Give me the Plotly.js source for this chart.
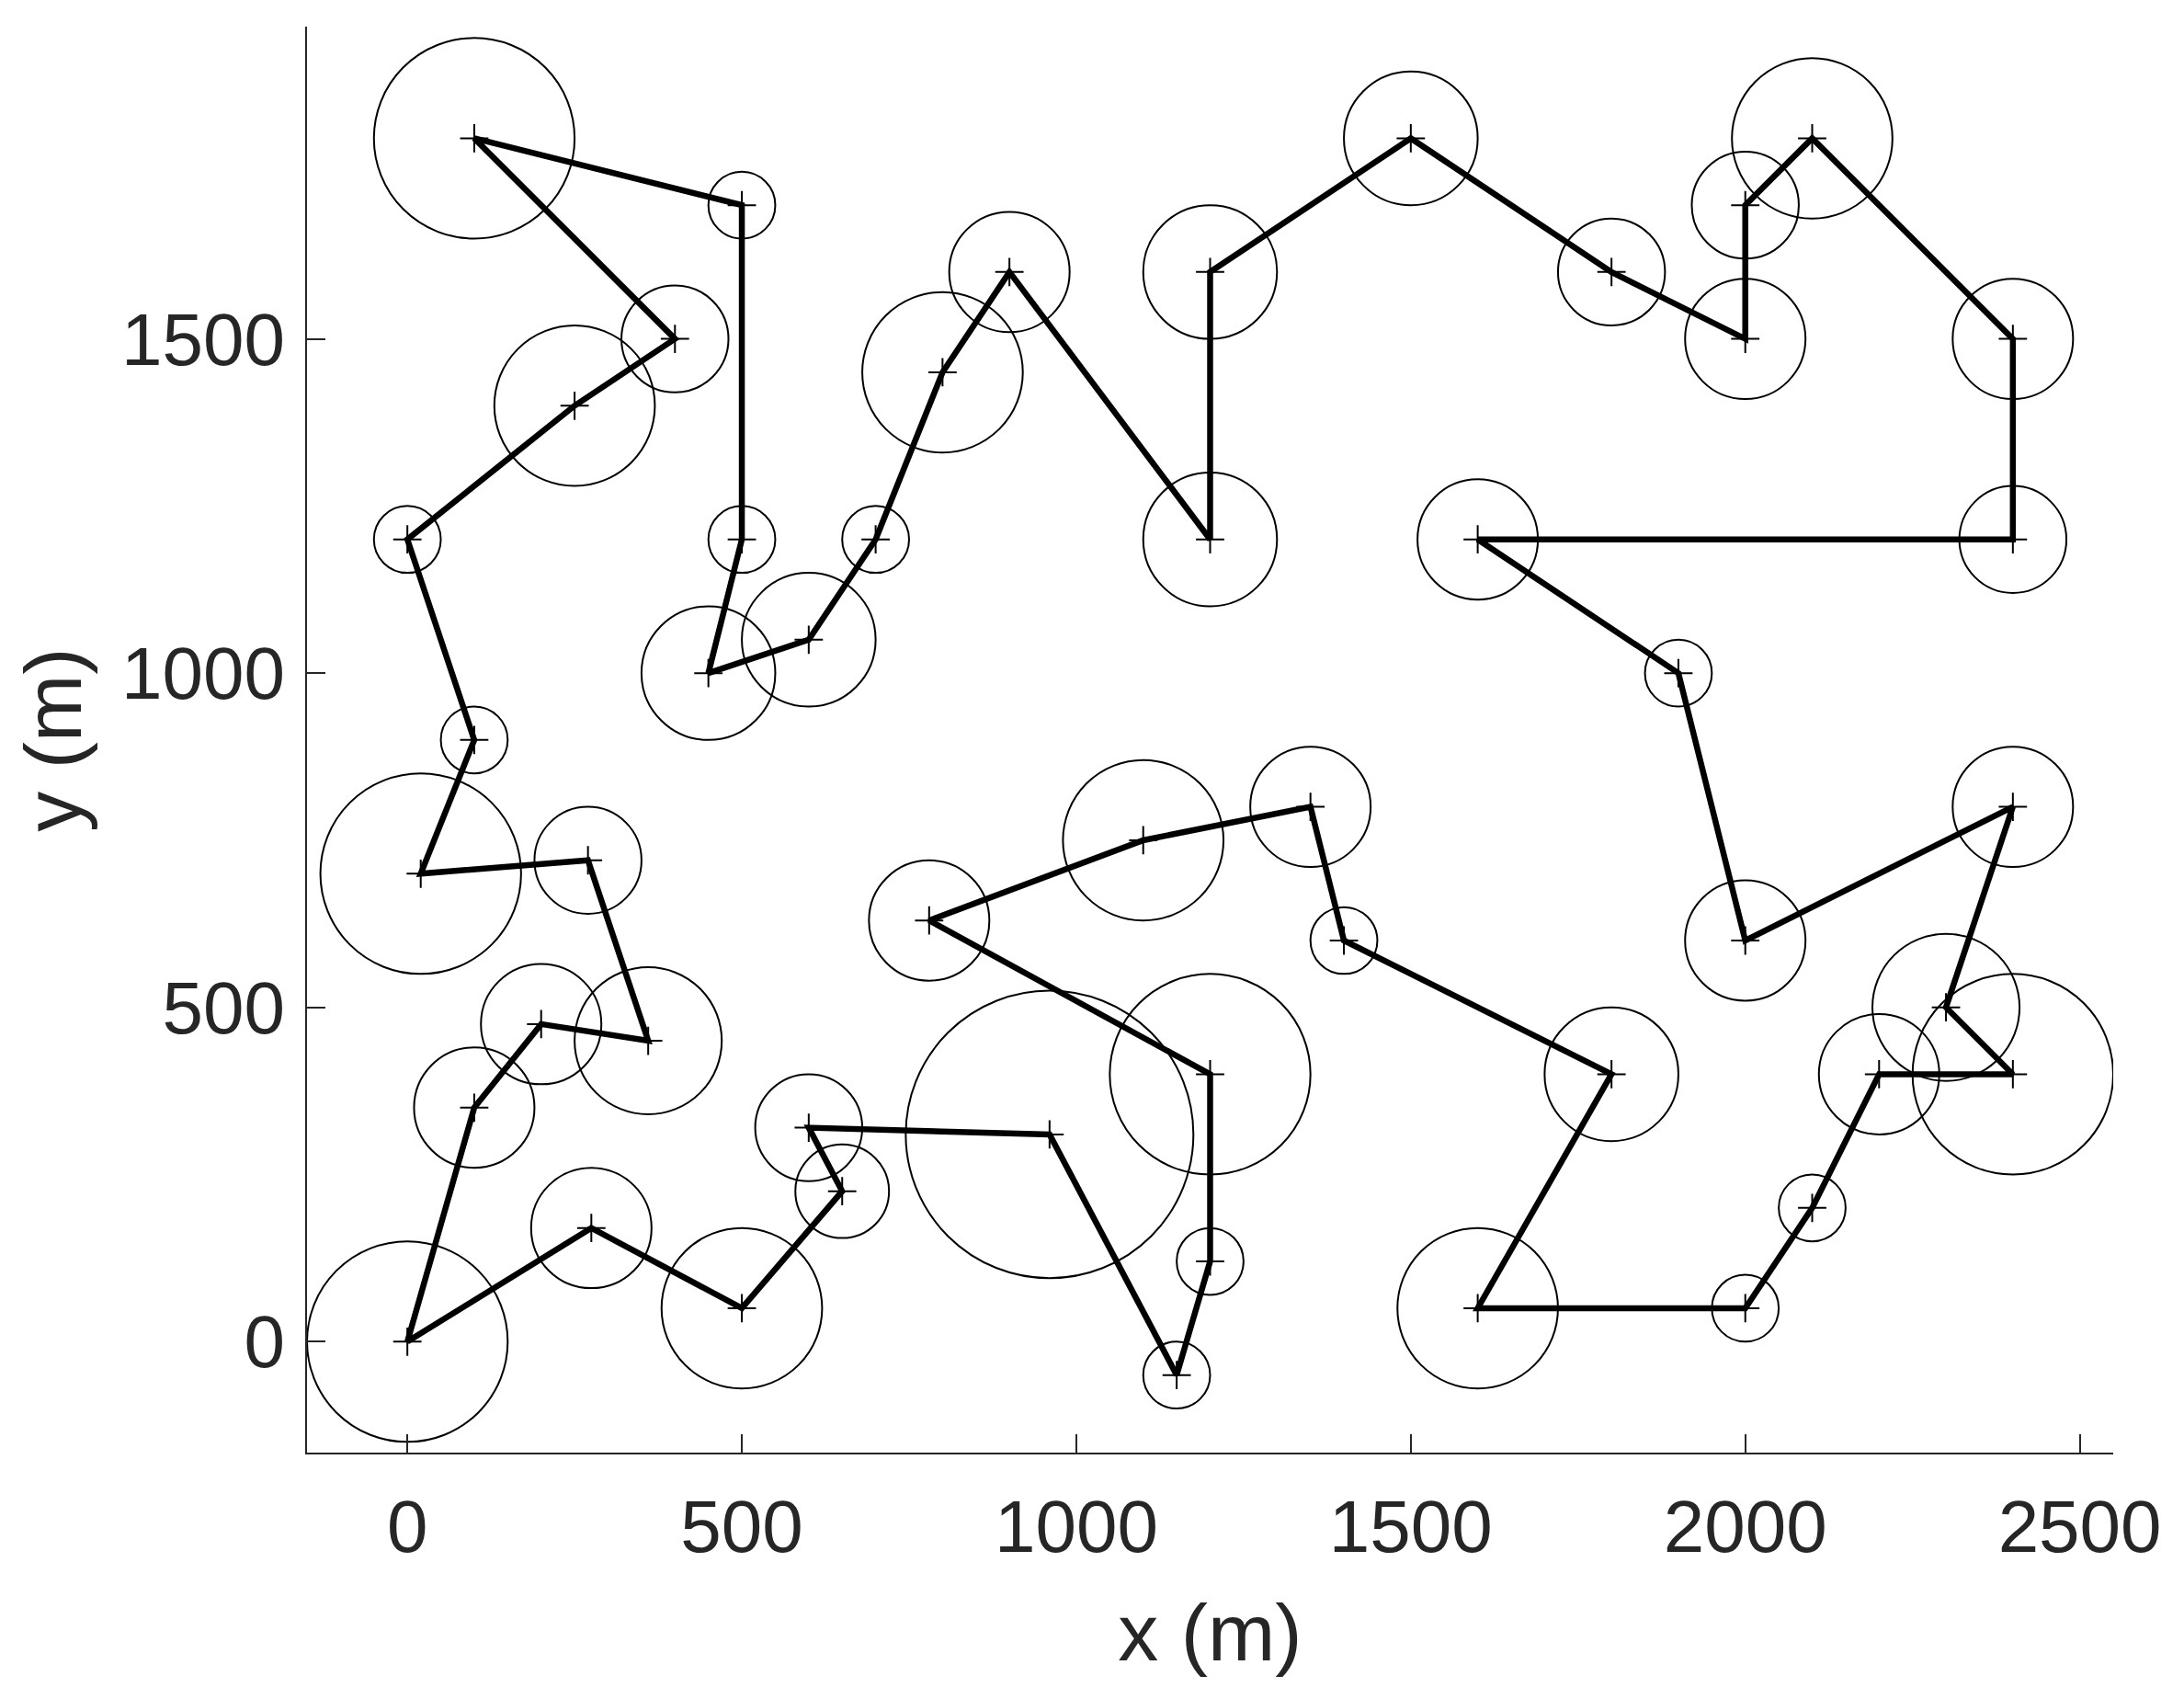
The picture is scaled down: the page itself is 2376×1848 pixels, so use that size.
<!DOCTYPE html>
<html>
<head>
<meta charset="utf-8">
<script src="https://cdn.plot.ly/plotly-3.0.1.min.js"></script>
<style>html,body{margin:0;padding:0;background:#fff;}#chart{width:2376px;height:1848px;}</style>
</head>
<body>
<div id="chart"></div>
<script>
// Tour node coordinates (m), in visiting order
const nodeX = [0, 100, 200, 360, 270, 20, 100, 0, 250, 400, 100, 500, 500, 450, 600, 700, 800, 900, 1200, 1200,
               1500, 1800, 2000, 2000, 2100, 2400, 2400, 1600, 1900, 2000, 2400, 2300, 2400, 2200, 2100, 2000, 1600, 1800, 1400, 1350,
               1100, 780, 1200, 1200, 1150, 960, 600, 650, 500, 275];
const nodeY = [0, 350, 475, 450, 720, 700, 900, 1200, 1400, 1500, 1800, 1700, 1200, 1000, 1050, 1200, 1450, 1600, 1200, 1600,
               1800, 1600, 1500, 1700, 1800, 1500, 1200, 1200, 1000, 600, 800, 500, 400, 400, 200, 50, 50, 400, 600, 800,
               750, 630, 400, 120, -50, 310, 320, 225, 50, 170];
// Circle radius (m) around each node
const nodeR = [150, 90, 90, 110, 80, 150, 50, 50, 120, 80, 150, 50, 50, 100, 100, 50, 120, 90, 100, 100,
               100, 80, 90, 80, 120, 90, 80, 90, 50, 90, 90, 110, 150, 90, 50, 50, 120, 100, 50, 90,
               120, 90, 150, 50, 50, 215, 80, 70, 120, 90];
const xTicks = [0, 500, 1000, 1500, 2000, 2500];
const yTicks = [0, 500, 1000, 1500];

const tourX = nodeX.concat([nodeX[0]]);
const tourY = nodeY.concat([nodeY[0]]);

const shapes = nodeX.map((cx, i) => ({
  type: 'circle', xref: 'x', yref: 'y',
  x0: cx - nodeR[i], x1: cx + nodeR[i],
  y0: nodeY[i] - nodeR[i], y1: nodeY[i] + nodeR[i],
  line: {color: '#000000', width: 2}, fillcolor: 'rgba(0,0,0,0)', layer: 'below'
}));

const traces = [
  {
    x: tourX, y: tourY, type: 'scatter', mode: 'lines',
    line: {color: '#000000', width: 6.5}, hoverinfo: 'skip', showlegend: false
  },
  {
    x: nodeX, y: nodeY, type: 'scatter', mode: 'markers',
    marker: {symbol: 'cross-thin', size: 22, color: '#000000', line: {color: '#000000', width: 2}},
    hoverinfo: 'skip', showlegend: false
  }
];

const font = 'Liberation Sans, Arial, Helvetica, sans-serif';
const layout = {
  width: 2376, height: 1848,
  margin: {l: 334, r: 77, t: 29, b: 268},
  paper_bgcolor: '#ffffff', plot_bgcolor: '#ffffff',
  showlegend: false,
  shapes: shapes,
  xaxis: {
    range: [-150, 2550], autorange: false,
    tickvals: xTicks, ticktext: xTicks.map(String),
    ticks: 'inside', ticklen: 20, tickwidth: 2, tickcolor: '#262626',
    showline: true, linecolor: '#262626', linewidth: 2, mirror: false,
    showgrid: false, zeroline: false,
    tickfont: {family: font, size: 80, color: '#262626'},
    ticklabelstandoff: 10,
    title: {text: 'x (m)', font: {family: font, size: 88, color: '#262626'}, standoff: 40},
    automargin: false
  },
  yaxis: {
    range: [-166, 1967], autorange: false,
    tickvals: yTicks, ticktext: yTicks.map(String),
    ticks: 'inside', ticklen: 20, tickwidth: 2, tickcolor: '#262626',
    showline: true, linecolor: '#262626', linewidth: 2, mirror: false,
    showgrid: false, zeroline: false,
    tickfont: {family: font, size: 80, color: '#262626'},
    ticklabelstandoff: 6,
    title: {text: 'y (m)', font: {family: font, size: 88, color: '#262626'}, standoff: 14},
    automargin: false
  }
};

Plotly.newPlot('chart', traces, layout, {staticPlot: true, displayModeBar: false});
</script>
</body>
</html>
